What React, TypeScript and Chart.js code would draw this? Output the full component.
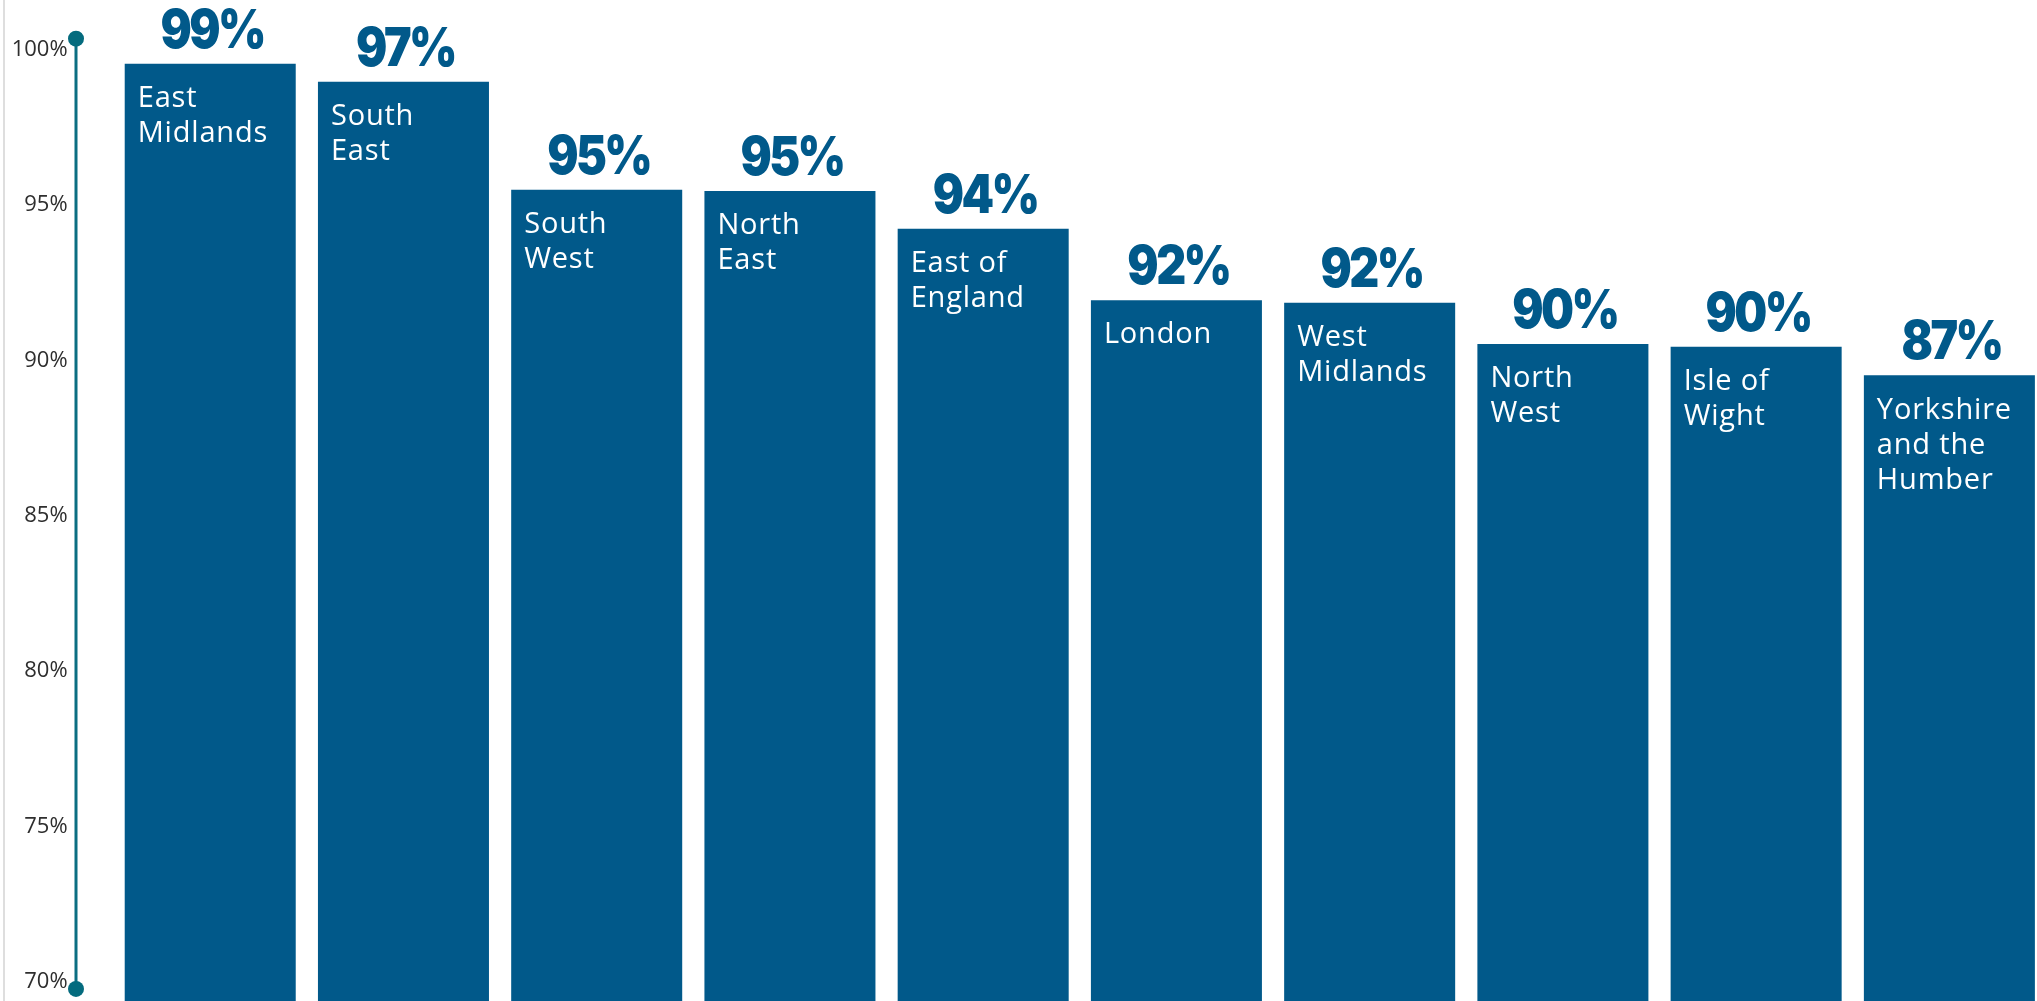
import React, { useEffect, useRef } from "react";
import { Chart, registerables } from "chart.js";

Chart.register(...registerables);

// ---- data ----
const categories: string[][] = [
  ["East", "Midlands"],
  ["South", "East"],
  ["South", "West"],
  ["North", "East"],
  ["East of", "England"],
  ["London"],
  ["West", "Midlands"],
  ["North", "West"],
  ["Isle of", "Wight"],
  ["Yorkshire", "and the", "Humber"],
];
const values: number[] = [99.55, 98.97, 95.49, 95.45, 94.24, 91.94, 91.86, 90.53, 90.44, 89.52];
const valueLabels: string[] = ["99%", "97%", "95%", "95%", "94%", "92%", "92%", "90%", "90%", "87%"];
const yTicks: number[] = [70, 75, 80, 85, 90, 95, 100];
const yTickLabels: string[] = ["70%", "75%", "80%", "85%", "90%", "95%", "100%"];

const BAR = "#01598A";
const TEAL = "#0B6E82";

const decorPlugin = {
  id: "decor",
  beforeDraw(chart: any) {
    const ctx = chart.ctx;
    ctx.save();
    ctx.fillStyle = "#dedede";
    ctx.fillRect(3, 0, 2, chart.height);
    ctx.restore();
  },
  afterDatasetsDraw(chart: any) {
    const ctx = chart.ctx;
    const meta = chart.getDatasetMeta(0);
    meta.data.forEach((bar: any, i: number) => {
      const props = bar.getProps(["x", "y", "width"], true);
      // value label above bar
      ctx.save();
      ctx.translate(props.x + 2, props.y - 16);
      ctx.scale(0.86, 1);
      ctx.fillStyle = BAR;
      ctx.font = "900 54px Inter";
      (ctx as any).letterSpacing = "-3px";
      ctx.textAlign = "center";
      ctx.textBaseline = "alphabetic";
      ctx.fillText(valueLabels[i], 0, 0);
      ctx.restore();
      // category label inside bar
      ctx.save();
      ctx.fillStyle = "#ffffff";
      ctx.font = "400 29px 'Open Sans'";
      (ctx as any).letterSpacing = "0.8px";
      ctx.textAlign = "left";
      ctx.textBaseline = "middle";
      const lines = categories[i];
      lines.forEach((ln, j) => {
        ctx.fillText(ln, props.x - props.width / 2 + 13, props.y + 35 + j * 35);
      });
      ctx.restore();
    });
  },
  afterDraw(chart: any) {
    const ctx = chart.ctx;
    const y = chart.scales.y;
    const top = y.getPixelForValue(100) - 11;
    const bottom = y.getPixelForValue(70) + 7;
    const x = 76;
    ctx.save();
    ctx.strokeStyle = TEAL;
    ctx.lineWidth = 3;
    ctx.beginPath();
    ctx.moveTo(x, top);
    ctx.lineTo(x, bottom);
    ctx.stroke();
    ctx.fillStyle = "#046B7E";
    [top, bottom].forEach((py) => {
      ctx.beginPath();
      ctx.arc(x, py, 8, 0, Math.PI * 2);
      ctx.fill();
    });
    ctx.restore();
  },
};

export default function App() {
  const ref = useRef<HTMLCanvasElement | null>(null);
  useEffect(() => {
    if (!ref.current) return;
    const chart = new Chart(ref.current, {
      type: "bar",
      data: {
        labels: categories.map((c) => c.join(" ")),
        datasets: [
          {
            data: values,
            backgroundColor: BAR,
            borderWidth: 0,
            barPercentage: 0.885,
            categoryPercentage: 1,
          },
        ],
      },
      options: {
        responsive: false,
        animation: false,
        devicePixelRatio: 1,
        layout: { padding: 0 },
        plugins: { legend: { display: false }, tooltip: { enabled: false } },
        scales: {
          x: { display: false },
          y: {
            min: 69,
            max: 101.6,
            grid: { display: false, drawTicks: false },
            border: { display: false },
            ticks: {
              padding: 46,
              color: "#2e2e2e",
              font: { family: "'Open Sans'", size: 22 },
              callback: (v: any) => {
                const idx = yTicks.indexOf(Number(v));
                return idx >= 0 ? yTickLabels[idx] : "";
              },
            },
            afterBuildTicks: (scale: any) => {
              scale.ticks = yTicks.map((v) => ({ value: v }));
            },
            afterFit: (scale: any) => {
              scale.width = 113.6;
              scale.paddingTop = 0;
              scale.paddingBottom = 0;
            },
          },
        },
      },
      plugins: [decorPlugin],
    });
    return () => chart.destroy();
  }, []);
  return (
    <div
      style={{
        position: "fixed",
        left: 0,
        top: 0,
        width: 2037,
        height: 1001,
        overflow: "hidden",
        background: "#fff",
      }}
    >
      <canvas ref={ref} width={2046} height={1013} style={{ width: 2046, height: 1013, display: "block" }} />
    </div>
  );
}
